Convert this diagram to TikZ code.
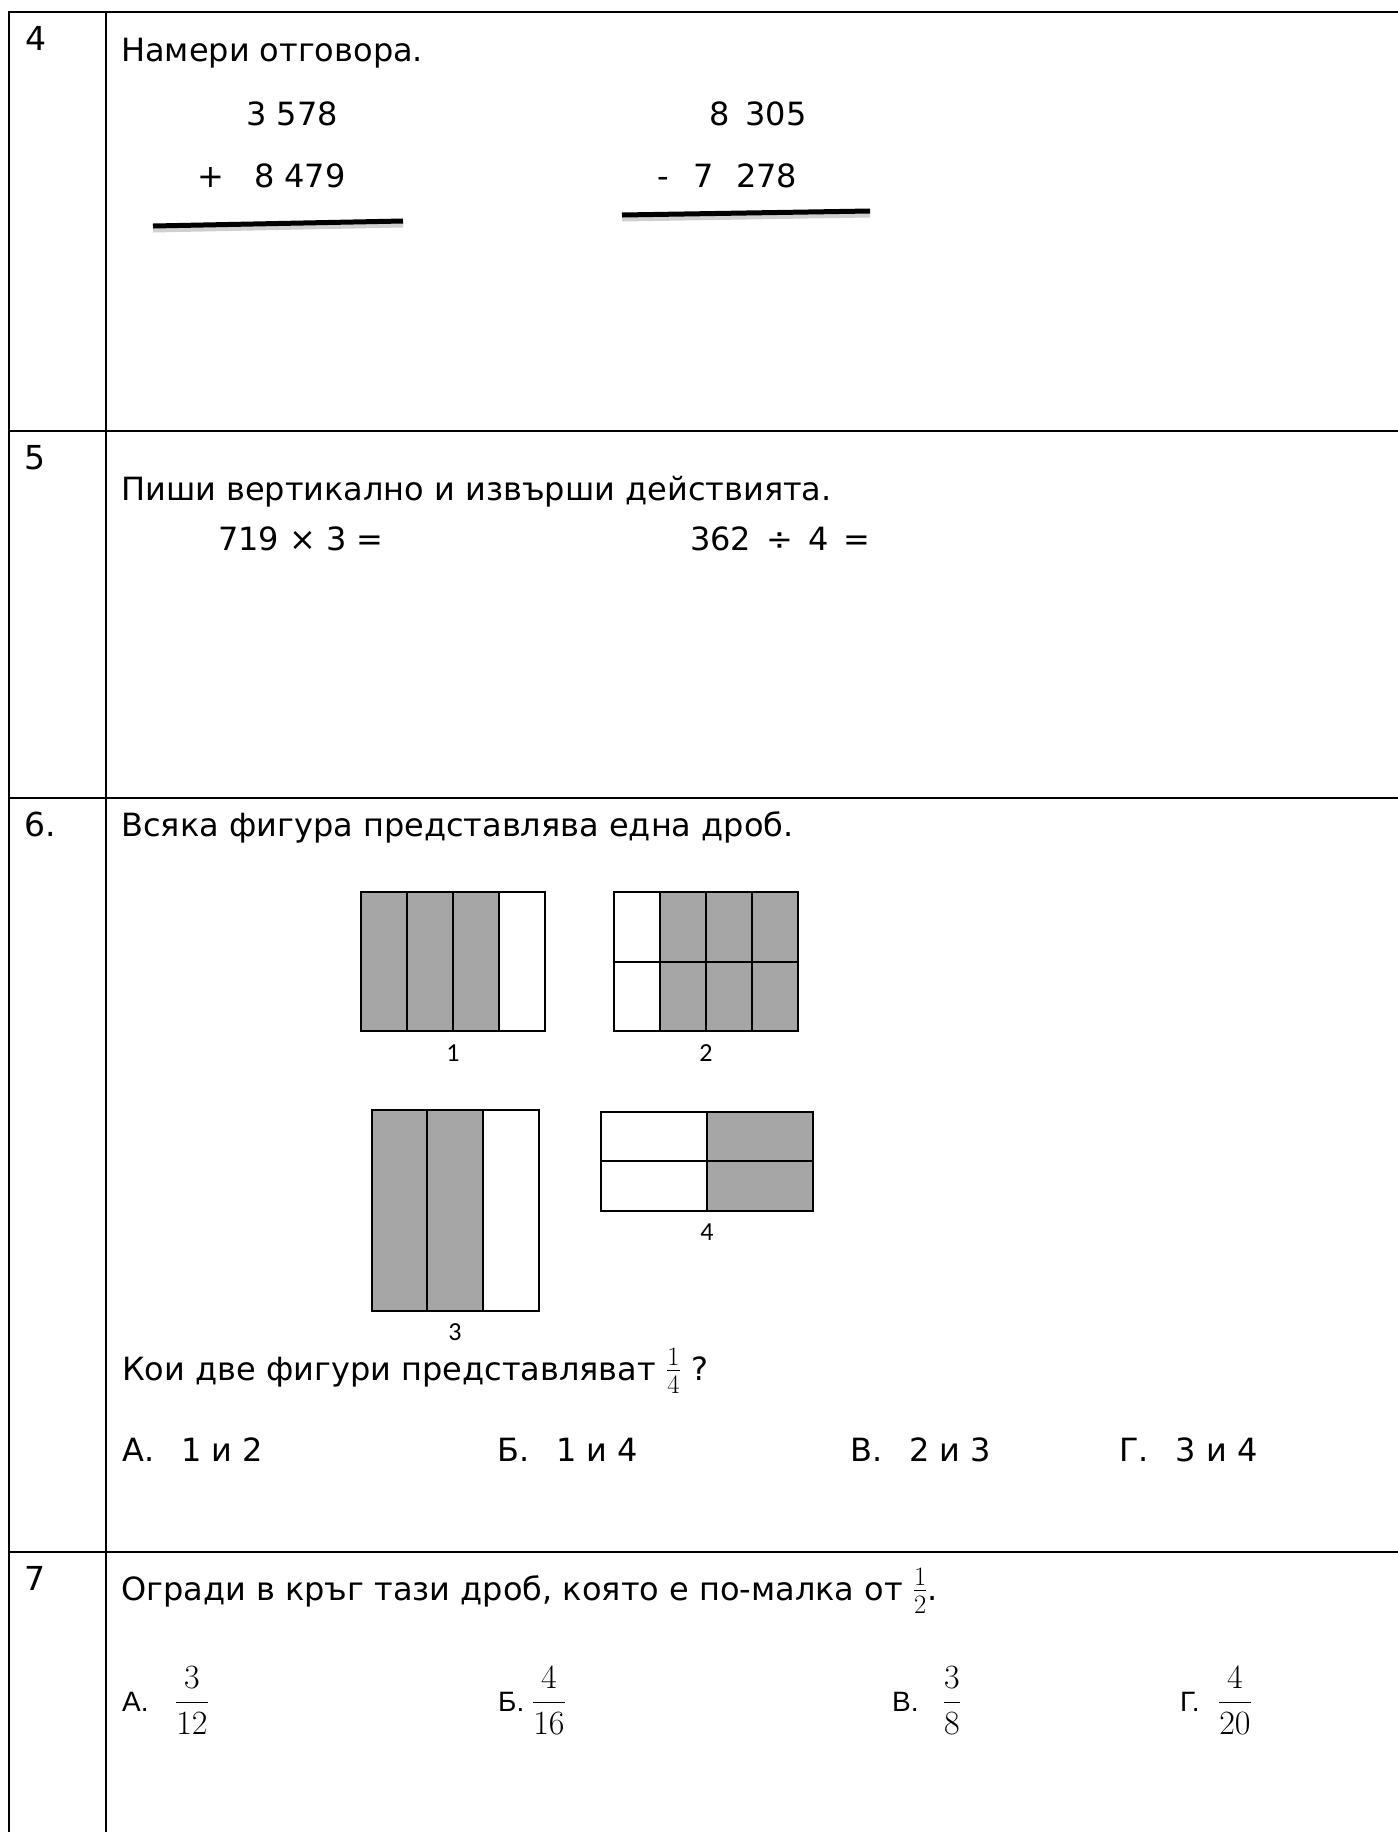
\documentclass[tikz,border=0pt]{standalone}
\usepackage{fix-cm}
\usepackage{fontspec}
\newfontfamily\tahf{DejaVu Sans}
\newfontfamily\calf{Carlito}
\newfontfamily\arlf{Liberation Sans}
\definecolor{cellgray}{RGB}{166,166,166}
\newcommand\smallfrac[2]{{\fontsize{38}{38}\selectfont$\frac{#1}{#2}$}}
\tikzset{
  tbl/.style={line width=2.6pt, line join=miter},
  txt/.style={anchor=base west, inner sep=0pt, font=\tahf\fontsize{32}{38}\selectfont},
  txtr/.style={anchor=base east, inner sep=0pt, font=\tahf\fontsize{32}{38}\selectfont},
  lbl/.style={anchor=base west, inner sep=0pt, font=\tahf\fontsize{33}{38}\selectfont},
  figlbl/.style={anchor=center, inner sep=0pt, font=\calf\fontsize{26}{30}\selectfont},
  optlbl/.style={anchor=base west, inner sep=0pt, font=\arlf\fontsize{28}{32}\selectfont},
  bigfrac/.style={anchor=base, inner sep=0pt, font=\fontsize{34}{38}\selectfont},
  gcell/.style={draw=black, line width=1.8pt, fill=cellgray},
  wcell/.style={draw=black, line width=1.8pt, fill=white},
  uline/.style={line width=5pt, line cap=butt},
  ushadow/.style={line width=7pt, line cap=butt, black!30, opacity=0.6},
}
\begin{document}
\begin{tikzpicture}[x=1pt,y=-1pt]
\useasboundingbox (0,0) rectangle (1398,1832);
\fill[white] (0,0) rectangle (1398,1832);

% ---------- table ----------
\draw[tbl] (9,1832) -- (9,12) -- (1398,12);
\draw[tbl] (106,12) -- (106,1832);
\draw[tbl] (9,431) -- (1398,431);
\draw[tbl] (9,798) -- (1398,798);
\draw[tbl] (9,1552) -- (1398,1552);

% ---------- row labels ----------
\node[lbl] (n4) at (25,50) {4};
\node[lbl] (n5) at (24,469) {5};
\node[lbl] (n6) at (24,836) {6.};
\node[lbl] (n7) at (24,1590) {7};

% ---------- question 4 ----------
\node[txt] (q4) at (121,61) {Намери отговора.};
\node[txtr] (a1) at (338,125) {3 578};
\node[txt] (a2) at (197,187) {+\hspace{30pt}8 479};
\node[txt] (s1) at (709,125) {8\hspace{16pt}305};
\node[txt] (s2) at (657,187) {-\hspace{25pt}7\hspace{22pt}278};
\coordinate (u1a) at (153,226);
\coordinate (u1b) at (403,221);
\coordinate (u2a) at (622,215);
\coordinate (u2b) at (870,211);
\draw[ushadow] ([yshift=-3pt]u1a) -- ([yshift=-3pt]u1b);
\draw[uline] (u1a) -- (u1b);
\draw[ushadow] ([yshift=-3pt]u2a) -- ([yshift=-3pt]u2b);
\draw[uline] (u2a) -- (u2b);

% ---------- question 5 ----------
\node[txt] (q5) at (121,500) {Пиши вертикално и извърши действията.};
\node[txt] (m1) at (218,550) {719 × 3 =};
\node[txt] (m2) at (690,550) {362\hspace{15pt}÷\hspace{15pt}4\hspace{15pt}=};

% ---------- question 6 ----------
\node[txt] (q6) at (121,836) {Всяка фигура представлява една дроб.};

% figure 1
\foreach \a/\b in {361/407,407/453,453/499}{\draw[gcell] (\a,892) rectangle (\b,1031);}
\draw[wcell] (499,892) rectangle (545,1031);
\node[figlbl] (l1) at (453,1053) {1};
% figure 2
\draw[wcell] (614,892) rectangle (660,962);
\draw[wcell] (614,962) rectangle (660,1031);
\foreach \a/\b in {660/706,706/752,752/798}{
  \draw[gcell] (\a,892) rectangle (\b,962);
  \draw[gcell] (\a,962) rectangle (\b,1031);}
\node[figlbl] (l2) at (706,1053) {2};
% figure 3
\draw[gcell] (372,1110) rectangle (427,1311);
\draw[gcell] (427,1110) rectangle (483,1311);
\draw[wcell] (483,1110) rectangle (539,1311);
\node[figlbl] (l3) at (455,1332) {3};
% figure 4
\draw[wcell] (601,1112) rectangle (707,1161);
\draw[wcell] (601,1161) rectangle (707,1211);
\draw[gcell] (707,1112) rectangle (813,1161);
\draw[gcell] (707,1161) rectangle (813,1211);
\node[figlbl] (l4) at (707,1232) {4};

\node[txt] (q6b) at (122,1380) {Кои две фигури представляват \smallfrac{1}{4} ?};
\node[txt] (o6a) at (122,1461) {А.\hspace{27pt}1 и 2};
\node[txt] (o6b) at (497,1461) {Б.\hspace{27pt}1 и 4};
\node[txt] (o6c) at (850,1461) {В.\hspace{27pt}2 и 3};
\node[txt] (o6d) at (1119,1461) {Г.\hspace{27pt}3 и 4};

% ---------- question 7 ----------
\node[txt] (q7) at (121,1600) {Огради в кръг тази дроб, която е по-малка от \smallfrac{1}{2}.};
\node[optlbl] (o7a) at (122,1711) {А.};
\node[bigfrac] (f7a) at (192,1711) {$\displaystyle\frac{3}{12}$};
\node[optlbl] (o7b) at (498,1711) {Б.};
\node[bigfrac] (f7b) at (549,1711) {$\displaystyle\frac{4}{16}$};
\node[optlbl] (o7c) at (892,1711) {В.};
\node[bigfrac] (f7c) at (952,1711) {$\displaystyle\frac{3}{8}$};
\node[optlbl] (o7d) at (1180,1711) {Г.};
\node[bigfrac] (f7d) at (1235,1711) {$\displaystyle\frac{4}{20}$};
\end{tikzpicture}
\end{document}
